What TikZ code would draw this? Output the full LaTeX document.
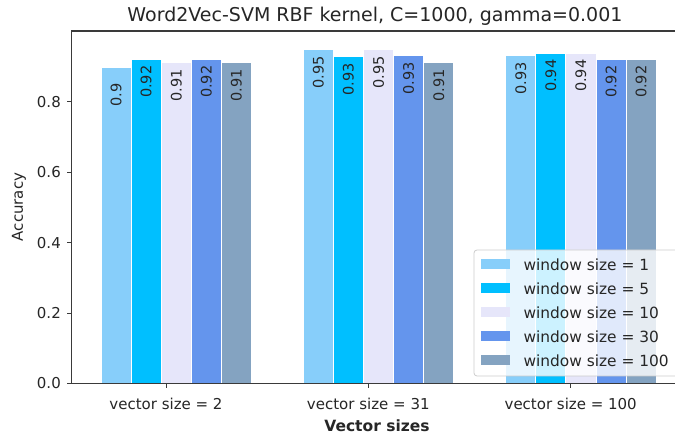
\documentclass[tikz,border=0pt]{standalone}
\usepackage{fontspec}
\setmainfont{DejaVu Sans}
\definecolor{cA}{HTML}{87CEFA}
\definecolor{cB}{HTML}{00BFFF}
\definecolor{cC}{HTML}{E6E6FA}
\definecolor{cD}{HTML}{6495ED}
\definecolor{cE}{RGB}{132,163,193}
\definecolor{ink}{HTML}{262626}
\definecolor{spinecol}{HTML}{3A3A3A}
\newcommand\drawbar[5]{%
  \fill[#4, draw=white, line width=1pt] (#2,383.5) rectangle ({#2+30.1},{383.5-#3*352.25});
  \node[barlab] (#1) at ({#2+15.05},{383.5-#3*352.25+39}) {#5};
}
\tikzset{
  barlab/.style={rotate=90, anchor=west, inner sep=0pt, text=ink, font=\fontsize{14.5}{17}\selectfont},
  ticklab/.style={inner sep=0pt, text=ink, font=\fontsize{15}{18}\selectfont},
  leglab/.style={inner sep=0pt, text=ink, font=\fontsize{15.4}{18}\selectfont},
  spine/.style={draw=spinecol, line width=1.1pt},
  tickmark/.style={draw=spinecol, line width=1pt},
}
\begin{document}
\begin{tikzpicture}[x=1pt,y=-1pt]
\useasboundingbox (0,0) rectangle (675,435);
\clip (0,0) rectangle (675,435);
\fill[white] (0,0) rectangle (675,435);
% bars group 1
\drawbar{a1}{101}{0.897}{cA}{0.9}
\drawbar{a2}{131.1}{0.921}{cB}{0.92}
\drawbar{a3}{161.2}{0.911}{cC}{0.91}
\drawbar{a4}{191.3}{0.921}{cD}{0.92}
\drawbar{a5}{221.4}{0.911}{cE}{0.91}
% group 2
\drawbar{b1}{303.3}{0.947}{cA}{0.95}
\drawbar{b2}{333.4}{0.928}{cB}{0.93}
\drawbar{b3}{363.5}{0.947}{cC}{0.95}
\drawbar{b4}{393.6}{0.930}{cD}{0.93}
\drawbar{b5}{423.7}{0.911}{cE}{0.91}
% group 3
\drawbar{c1}{505.7}{0.930}{cA}{0.93}
\drawbar{c2}{535.8}{0.938}{cB}{0.94}
\drawbar{c3}{565.9}{0.938}{cC}{0.94}
\drawbar{c4}{596.0}{0.921}{cD}{0.92}
\drawbar{c5}{626.1}{0.921}{cE}{0.92}
% spines
\coordinate (o) at (71.5,383.5);
\coordinate (tl) at (71.5,31);
\coordinate (tr) at (690,31);
\coordinate (br) at (690,383.5);
\draw[spine] (o) -- (tl) -- (tr);
\draw[spine] (o) -- (br);
% y ticks
\foreach \v/\t [count=\k] in {0/0.0,0.2/0.2,0.4/0.4,0.6/0.6,0.8/0.8}{
  \coordinate (yt\k) at (71.5,{383.5-\v*352.25});
  \draw[tickmark] (yt\k) -- ++(-5,0);
  \node[ticklab, anchor=east] (ylab\k) at (61,{383.5-\v*352.25}) {\t};
}
% x ticks
\foreach \x/\t [count=\k] in {166/2,368.3/31,570.7/100}{
  \coordinate (xt\k) at (\x,383.5);
  \draw[tickmark] (xt\k) -- ++(0,5);
  \node[ticklab, anchor=base] (xlab\k) at (\x,409.5) {vector size = \t};
}
% axis labels and title
\node[ticklab, anchor=base, font=\fontsize{15.5}{18}\selectfont\bfseries] (xaxlab) at (377,432) {Vector sizes};
\node[ticklab, anchor=base, rotate=90] (yaxlab) at (23,207) {Accuracy};
\node[ticklab, anchor=base, font=\fontsize{19}{22}\selectfont] (title) at (375,21.5) {Word2Vec-SVM RBF kernel, C=1000, gamma=0.001};
% legend
\draw[draw=black!20, line width=0.8pt, fill=white, fill opacity=0.8, rounded corners=3pt] (474,250) rectangle (690,376);
\foreach \c/\t [count=\k] in {cA/1,cB/5,cC/10,cD/30,cE/100}{
  \fill[\c] (480.7,{259.5+(\k-1)*23.9}) rectangle (510,{269.5+(\k-1)*23.9});
  \node[leglab, anchor=west] (leg\k) at (523.3,{264.8+(\k-1)*23.9}) {window size = \t};
}
\end{tikzpicture}
\end{document}
